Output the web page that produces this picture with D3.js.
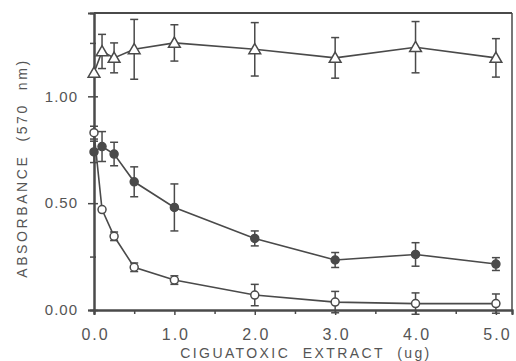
<!DOCTYPE html>
<html>
<head>
<meta charset="utf-8">
<script src="https://cdn.jsdelivr.net/npm/d3@7"></script>
<style>
  body { margin: 0; background: #fff; }
  svg text { font-family: "Liberation Sans", Arial, sans-serif; fill: #555; white-space: pre; }
</style>
</head>
<body>
<div class="chart"></div>
<script>
const doses = [0, 0.1, 0.25, 0.5, 1, 2, 3, 4, 5];

// triangles (control)
const triMean = [1.11, 1.21, 1.18, 1.22, 1.25, 1.22, 1.18, 1.23, 1.18];
const triErr  = [0.0, 0.08, 0.07, 0.14, 0.085, 0.125, 0.095, 0.12, 0.09];

// filled circles
const fillMean = [0.74, 0.765, 0.73, 0.60, 0.48, 0.335, 0.234, 0.26, 0.215];
const fillErr  = [0.05, 0.07, 0.055, 0.07, 0.11, 0.035, 0.035, 0.055, 0.03];

// open circles
const openMean = [0.83, 0.47, 0.345, 0.20, 0.14, 0.07, 0.037, 0.03, 0.03];
const openErr  = [0.03, 0.0, 0.02, 0.02, 0.02, 0.05, 0.05, 0.05, 0.045];

const xTicks = [0, 1, 2, 3, 4, 5];
const xMinor = [0.5, 1.5, 2.5, 3.5, 4.5];
const yTicks = [0, 0.5, 1.0];
const yMinor = [0.25, 0.75, 1.25];

const W = 516, H = 361;
const svg = d3.select(".chart").append("svg")
    .attr("width", W).attr("height", H);

const x = d3.scaleLinear().domain([0, 5.2]).range([94, 512]);
const y = d3.scaleLinear().domain([0, 1.39]).range([310, 13]);
const ink = "#4a4a4a";

// frame
svg.append("line").attr("x1", x(0)).attr("x2", x(5.2)).attr("y1", y(1.39)).attr("y2", y(1.39))
    .attr("stroke", ink).attr("stroke-width", 2);
svg.append("line").attr("x1", x(5.2)).attr("x2", x(5.2)).attr("y1", y(1.39)).attr("y2", y(0))
    .attr("stroke", ink).attr("stroke-width", 1.5);

const xAxis = svg.append("g").attr("transform", `translate(0,${y(0)})`)
    .call(d3.axisBottom(x).tickValues(xTicks).tickSize(5).tickFormat(d3.format(".1f")));
const xAxisMinor = svg.append("g").attr("transform", `translate(0,${y(0)})`)
    .call(d3.axisBottom(x).tickValues(xMinor).tickSize(4).tickFormat(""));
const yAxis = svg.append("g").attr("transform", `translate(${x(0)},0)`)
    .call(d3.axisLeft(y).tickValues(yTicks).tickSize(6).tickFormat(d3.format(".2f")));
const yAxisMinor = svg.append("g").attr("transform", `translate(${x(0)},0)`)
    .call(d3.axisLeft(y).tickValues(yMinor).tickSize(4).tickFormat(""));

[xAxis, xAxisMinor, yAxis, yAxisMinor].forEach(g => {
  g.select(".domain").attr("stroke", ink).attr("stroke-width", 2);
  g.selectAll(".tick line").attr("stroke", ink).attr("stroke-width", 1.5);
  g.selectAll("text").attr("fill", "#777");
});
// y ticks cross the axis
yAxis.selectAll(".tick line").attr("x1", 4);
yAxisMinor.selectAll(".tick line").attr("x1", 2);
xAxis.selectAll("text").style("font-size", "16px").style("letter-spacing", "2px")
    .attr("y", 30).attr("dy", 0).attr("dx", 1);
yAxis.selectAll("text").style("font-size", "15px").style("letter-spacing", "1px")
    .attr("x", -16);

svg.append("text")
    .attr("transform", "translate(27,168) rotate(-90)")
    .attr("text-anchor", "middle")
    .style("font-size", "14px").style("letter-spacing", "2.6px")
    .text("ABSORBANCE  (570  nm)");

svg.append("text")
    .attr("x", 306).attr("y", 358)
    .attr("text-anchor", "middle")
    .style("font-size", "14px").style("letter-spacing", "2.4px")
    .text("CIGUATOXIC  EXTRACT  (ug)");

function drawSeries(means, errs, kind) {
  const pts = doses.map((d, i) => ({ x: d, y: means[i], e: errs[i] }));
  const g = svg.append("g");
  const line = d3.line().x(d => x(d.x)).y(d => y(d.y));
  g.append("path").datum(pts).attr("d", line)
      .attr("fill", "none").attr("stroke", ink).attr("stroke-width", 1.6);

  const eb = g.selectAll(".eb").data(pts.filter(d => d.e > 0)).enter().append("g");
  eb.append("line").attr("x1", d => x(d.x)).attr("x2", d => x(d.x))
      .attr("y1", d => y(d.y + d.e)).attr("y2", d => y(d.y - d.e))
      .attr("stroke", ink).attr("stroke-width", 1.5);
  eb.append("line").attr("x1", d => x(d.x) - 4).attr("x2", d => x(d.x) + 4)
      .attr("y1", d => y(d.y + d.e)).attr("y2", d => y(d.y + d.e))
      .attr("stroke", ink).attr("stroke-width", 1.5);
  eb.append("line").attr("x1", d => x(d.x) - 4).attr("x2", d => x(d.x) + 4)
      .attr("y1", d => y(d.y - d.e)).attr("y2", d => y(d.y - d.e))
      .attr("stroke", ink).attr("stroke-width", 1.5);

  if (kind === "tri") {
    g.selectAll(".m").data(pts).enter().append("path")
        .attr("d", d3.symbol(d3.symbolTriangle, 60))
        .attr("transform", d => `translate(${x(d.x)},${y(d.y) + 1})`)
        .attr("fill", "#fff").attr("stroke", ink).attr("stroke-width", 1.5);
  } else {
    g.selectAll(".m").data(pts).enter().append("circle")
        .attr("cx", d => x(d.x)).attr("cy", d => y(d.y)).attr("r", 4)
        .attr("fill", kind === "fill" ? ink : "#fff")
        .attr("stroke", ink).attr("stroke-width", 1.5);
  }
}

drawSeries(triMean, triErr, "tri");
drawSeries(fillMean, fillErr, "fill");
drawSeries(openMean, openErr, "open");
</script>
</body>
</html>
